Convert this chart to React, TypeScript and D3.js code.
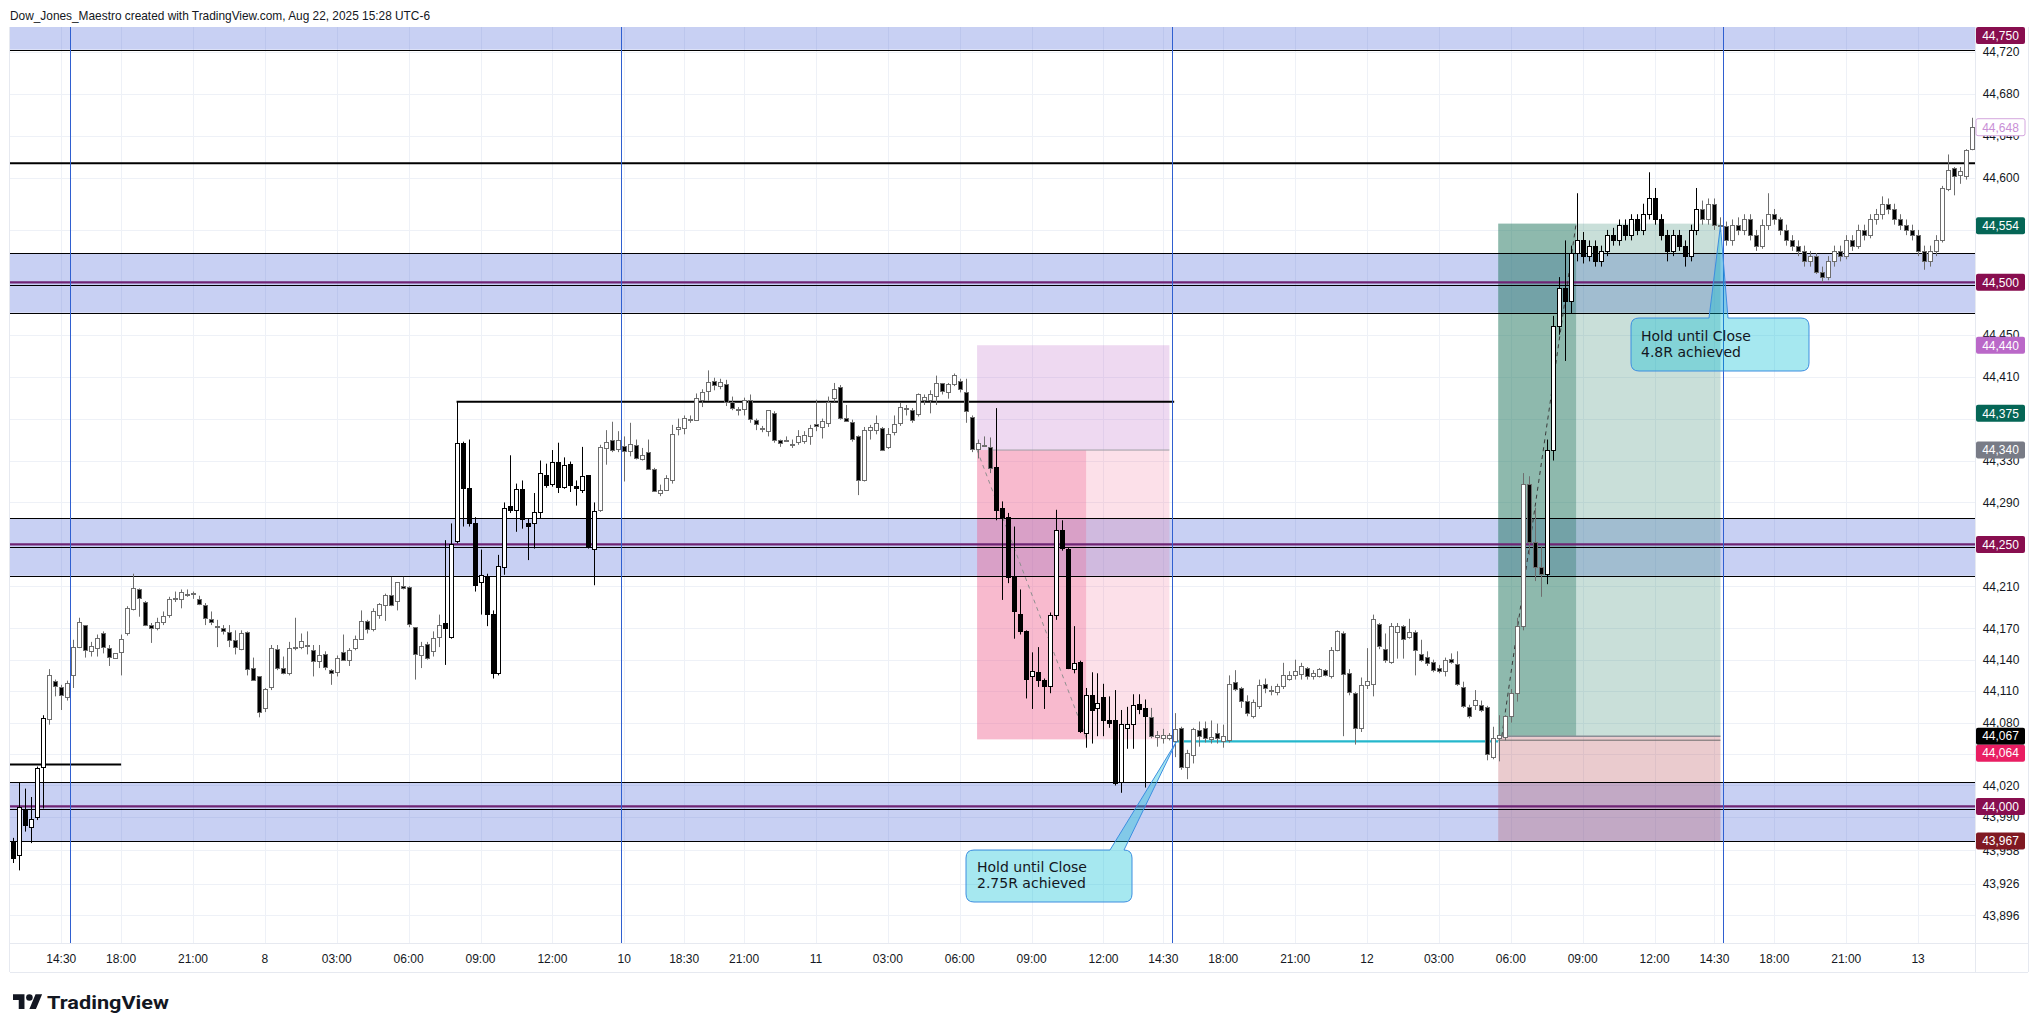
import React from 'react';
import * as d3 from 'd3';

type Bar = [number, number, number, number]; // open, high, low, close

// Day 7 (12:30 - 14:45), 15-minute bars
const session7: Bar[] = [
  [43966,43970,43946,43951],[43954,44023,43939,43999],[43998,44017,43976,43982],[43980,44009,43965,43988],
  [43990,44038,43987,44037],[44038,44087,43998,44084],[44083,44131,44078,44125],[44120,44121,44105,44115],
  [44114,44116,44092,44106],[44104,44120,44101,44118],
];
// Day 7 16:00 -> Day 8 14:45
const session8: Bar[] = [
  [44125,44159,44113,44152],[44152,44180,44151,44176],[44173,44173,44142,44149],[44148,44157,44143,44153],
  [44151,44164,44143,44161],[44165,44167,44146,44152],[44151,44154,44134,44143],[44142,44146,44142,44146],
  [44147,44164,44125,44160],[44165,44191,44163,44189],[44188,44222,44187,44208],[44207,44208,44181,44199],
  [44195,44196,44172,44173],[44173,44175,44156,44170],[44170,44180,44168,44176],[44176,44186,44173,44182],
  [44183,44200,44180,44198],[44199,44205,44195,44198],[44198,44207,44189,44205],[44203,44207,44200,44203],
  [44203,44205,44198,44204],[44198,44201,44192,44193],[44192,44194,44173,44180],[44179,44186,44173,44176],
  [44172,44178,44152,44171],[44170,44173,44164,44167],[44166,44173,44152,44159],[44159,44168,44145,44152],
  [44150,44168,44149,44165],[44166,44167,44125,44131],[44132,44142,44120,44121],[44124,44124,44085,44090],
  [44094,44113,44090,44112],[44114,44154,44111,44151],[44150,44154,44130,44132],[44132,44143,44126,44127],
  [44127,44157,44125,44151],[44152,44180,44149,44151],[44152,44165,44150,44158],[44154,44167,44145,44154],
  [44149,44154,44124,44139],[44139,44154,44132,44144],[44145,44148,44130,44133],[44130,44131,44116,44127],
  [44128,44144,44124,44142],[44147,44164,44140,44140],[44140,44151,44134,44149],[44151,44163,44149,44160],
  [44160,44187,44159,44177],[44177,44178,44165,44169],[44169,44189,44167,44186],[44183,44194,44179,44193],
  [44192,44203,44177,44202],[44202,44219,44191,44192],[44196,44214,44187,44214],[44210,44219,44207,44208],
  [44209,44210,44171,44174],[44171,44171,44121,44145],[44144,44157,44132,44153],[44155,44157,44140,44142],
  [44148,44167,44143,44161],[44162,44183,44152,44173],[44175,44254,44135,44170],[44162,44270,44160,44250],
  [44253,44386,44251,44347],[44347,44348,44267,44304],[44304,44350,44267,44270],[44270,44276,44205,44211],
  [44214,44245,44183,44221],[44220,44222,44172,44184],[44184,44187,44122,44127],[44127,44240,44125,44229],
  [44228,44290,44221,44285],[44287,44335,44280,44283],[44283,44308,44262,44303],[44303,44311,44265,44274],
  [44270,44275,44235,44268],[44270,44299,44246,44281],[44281,44330,44275,44318],[44316,44327,44304,44307],
  [44308,44340,44305,44329],[44329,44347,44299,44305],[44305,44333,44303,44326],[44327,44329,44300,44307],
  [44306,44311,44287,44304],[44302,44343,44299,44315],[44316,44316,44246,44248],[44246,44290,44211,44282],
  [44283,44345,44281,44343],[44342,44359,44326,44348],[44350,44367,44338,44340],[44341,44358,44338,44350],
];
// Sunday 10 16:00 -> Day 11 14:45
const session11: Bar[] = [
  [44344,44353,44310,44339],[44339,44366,44334,44346],[44345,44350,44331,44332],[44331,44342,44330,44335],
  [44338,44350,44321,44322],[44322,44323,44300,44301],[44299,44307,44296,44302],[44302,44316,44301,44313],
  [44311,44364,44308,44355],[44360,44370,44354,44362],[44361,44373,44355,44371],[44370,44373,44366,44370],
  [44369,44394,44368,44390],[44388,44398,44381,44395],[44396,44416,44387,44405],[44406,44409,44397,44402],
  [44401,44408,44398,44405],[44403,44407,44382,44386],[44386,44391,44378,44380],[44379,44381,44373,44378],
  [44379,44390,44373,44388],[44388,44393,44366,44370],[44369,44370,44359,44365],[44361,44363,44357,44360],
  [44358,44378,44353,44378],[44375,44377,44347,44350],[44350,44350,44343,44347],[44350,44353,44349,44350],
  [44346,44350,44342,44346],[44348,44359,44345,44353],[44349,44358,44346,44354],[44353,44364,44345,44361],
  [44365,44388,44358,44363],[44362,44370,44351,44368],[44366,44391,44362,44386],[44390,44404,44386,44398],
  [44400,44402,44369,44371],[44371,44383,44367,44368],[44367,44369,44348,44351],[44353,44354,44297,44311],
  [44311,44362,44310,44359],[44359,44364,44350,44362],[44359,44373,44355,44366],[44361,44362,44339,44340],
  [44343,44361,44341,44355],[44357,44373,44354,44365],[44366,44385,44363,44381],[44380,44383,44373,44380],
  [44378,44380,44366,44369],[44374,44394,44372,44393],[44388,44393,44383,44391],[44388,44397,44375,44393],
  [44392,44411,44383,44404],[44404,44404,44393,44396],[44395,44404,44389,44403],[44403,44413,44401,44412],
  [44406,44408,44395,44398],[44395,44408,44366,44377],[44372,44373,44338,44341],[44341,44350,44332,44347],
  [44345,44353,44343,44345],[44343,44352,44318,44323],[44324,44380,44273,44283],[44285,44291,44197,44276],
  [44276,44280,44213,44219],[44219,44267,44160,44186],[44184,44207,44164,44167],[44167,44168,44103,44122],
  [44124,44147,44093,44129],[44128,44152,44114,44121],[44121,44122,44093,44115],[44115,44185,44108,44183],
  [44183,44283,44178,44264],[44264,44273,44244,44247],[44246,44247,44131,44132],[44131,44172,44127,44137],
  [44138,44139,44070,44072],[44070,44113,44056,44106],[44106,44128,44060,44092],[44094,44127,44067,44099],
  [44104,44117,44067,44082],[44082,44105,44075,44080],[44082,44111,44020,44022],[44023,44092,44013,44079],
  [44075,44095,44055,44079],[44079,44107,44055,44097],[44098,44107,44088,44093],[44094,44102,44018,44086],
  [44085,44094,44065,44067],[44066,44072,44057,44068],[44065,44074,44060,44068],[44065,44070,44063,44068],
];
// Day 11 16:00 -> Day 12 14:45
const session12: Bar[] = [
  [44062,44089,44047,44074],[44075,44076,44035,44038],[44038,44054,44026,44051],[44049,44075,44041,44074],
  [44073,44081,44057,44067],[44075,44081,44061,44065],[44064,44082,44060,44066],[44070,44079,44060,44065],
  [44062,44078,44056,44067],[44063,44125,44061,44117],[44119,44130,44110,44112],[44113,44114,44094,44101],
  [44101,44106,44086,44089],[44086,44102,44084,44100],[44096,44121,44093,44116],[44117,44122,44108,44113],
  [44111,44115,44106,44110],[44109,44117,44106,44115],[44115,44137,44112,44125],[44122,44129,44120,44125],
  [44125,44140,44121,44129],[44126,44137,44121,44134],[44132,44133,44121,44124],[44124,44130,44121,44127],
  [44124,44132,44123,44131],[44130,44131,44124,44125],[44124,44152,44122,44149],[44149,44168,44148,44167],
  [44165,44167,44067,44126],[44127,44131,44106,44109],[44108,44109,44059,44075],[44075,44123,44071,44116],
  [44116,44151,44112,44120],[44117,44183,44105,44179],[44174,44175,44150,44153],[44150,44165,44137,44140],
  [44138,44175,44136,44172],[44166,44175,44141,44172],[44172,44173,44141,44160],[44162,44179,44160,44166],
  [44166,44168,44125,44149],[44145,44159,44138,44140],[44143,44148,44134,44137],[44138,44140,44128,44130],
  [44132,44135,44127,44129],[44129,44142,44124,44140],[44141,44146,44136,44138],[44136,44148,44115,44117],
  [44114,44119,44094,44096],[44095,44097,44084,44086],[44097,44111,44092,44102],[44097,44101,44090,44092],
  [44095,44096,44044,44050],[44047,44076,44045,44065],[44065,44087,44043,44068],[44066,44087,44063,44086],
  [44086,44112,44080,44108],[44108,44180,44100,44172],[44172,44318,44168,44308],[44308,44315,44240,44252],
  [44252,44285,44215,44228],[44228,44248,44200,44222],[44222,44350,44212,44340],[44340,44468,44330,44458],
  [44458,44505,44450,44495],[44495,44540,44425,44482],[44482,44535,44470,44528],[44528,44585,44520,44540],
  [44540,44548,44518,44525],[44525,44540,44520,44535],[44535,44540,44515,44520],[44520,44535,44515,44530],
  [44530,44550,44525,44545],[44545,44552,44535,44540],[44540,44560,44535,44555],[44555,44560,44540,44545],
  [44545,44565,44540,44560],[44560,44565,44545,44550],[44550,44575,44545,44565],[44565,44605,44560,44580],
  [44580,44590,44555,44560],[44560,44565,44540,44545],[44545,44550,44520,44530],[44530,44550,44525,44545],
  [44545,44550,44530,44535],[44535,44540,44515,44525],[44525,44555,44520,44550],[44550,44590,44545,44570],
  [44570,44578,44555,44560],[44560,44580,44555,44575],[44575,44580,44550,44555],[44555,44562,44548,44554],
];
// Day 12 16:00 -> Day 13 02:15
const session13: Bar[] = [
  [44554,44558,44535,44540],[44540,44560,44535,44555],[44555,44562,44545,44550],[44550,44565,44545,44560],
  [44560,44565,44540,44545],[44545,44550,44530,44535],[44535,44560,44532,44555],[44555,44585,44550,44565],
  [44565,44570,44555,44560],[44560,44562,44545,44550],[44550,44555,44535,44540],[44540,44545,44530,44535],
  [44535,44540,44525,44530],[44530,44535,44515,44520],[44520,44530,44515,44525],[44525,44528,44508,44510],
  [44510,44515,44500,44505],[44505,44525,44502,44520],[44520,44535,44515,44530],[44530,44535,44520,44525],
  [44525,44545,44522,44540],[44540,44545,44530,44535],[44535,44555,44532,44550],[44550,44555,44540,44545],
  [44545,44565,44542,44560],[44560,44570,44555,44565],[44565,44582,44560,44575],[44575,44580,44565,44570],
  [44570,44575,44555,44560],[44560,44565,44550,44555],[44555,44560,44545,44550],[44550,44555,44540,44545],
  [44545,44550,44525,44530],[44530,44535,44512,44520],[44520,44535,44515,44530],[44530,44545,44525,44540],
  [44540,44592,44538,44590],[44589,44622,44587,44607],[44609,44610,44583,44601],[44602,44610,44594,44606],
  [44601,44627,44598,44626],[44627,44657,44626,44648],
];
const sessions = [session7, session8, session11, session12, session13];
const sessionStartMinute = [750, 960, 960, 960, 960];

const timeTickLabels = ['14:30','18:00','21:00','8','03:00','06:00','09:00','12:00','10','18:30','21:00','11','03:00','06:00','09:00','12:00','14:30','18:00','21:00','12','03:00','06:00','09:00','12:00','14:30','18:00','21:00','13'];
const timeTickBars = [8,18,30,42,54,66,78,90,102,112,122,134,146,158,170,182,192,202,214,226,238,250,262,274,284,294,306,318];

// grid levels of the price scale; the labelled subset is what stays visible around the axis boxes
const priceGrid = [44720,44680,44640,44600,44550,44500,44450,44410,44370,44330,44290,44250,44210,44170,44140,44110,44080,44050,44020,43990,43958,43926,43896];
const priceTickLabels = [44720,44680,44640,44600,44450,44410,44330,44290,44210,44170,44140,44110,44080,44020,43990,43958,43926,43896];

const sessionEndLines = [9.4, 101.4, 193.4, 285.4];

const zoneLevels = [44750, 44500, 44250, 44000];
const zoneTops = [44778, 44528, 44275, 44023];
const zoneBottoms = [44722, 44471, 44220, 43967];

const levelPrices = [44613.5, 44386, 44040];
const levelFrom = [-2, 74, -2];
const levelTo = [330, 193.8, 18];

const tealPrice = 44062;
const tealFrom = 193.7;
const tealTo = 247.9;

const shortEntry = 44340, shortStop = 44440, shortTarget = 44064;
const shortStart = 160.9, shortHit = 179.1, shortEnd = 193;
const longEntry = 44067, longTarget = 44556, longStop = 43967;
const longStart = 247.9, longHit = 260.9, longEnd = 285;

const axisLabelPrices = [44750, 44648, 44554, 44500, 44440, 44375, 44340, 44250, 44067, 44064, 44000, 43967];
const axisLabelKinds = ['zone','last','green','zone','violet','green','gray','zone','black','pink','zone','red'];

const LABEL_STYLE: Record<string, { bg: string; fg: string; stroke?: string }> = {
  zone: { bg: '#880e4f', fg: '#ffffff' },
  last: { bg: '#ffffff', fg: '#c98fd6', stroke: '#d3a6de' },
  green: { bg: '#056656', fg: '#ffffff' },
  violet: { bg: '#ba68c8', fg: '#ffffff' },
  gray: { bg: '#787b86', fg: '#ffffff' },
  black: { bg: '#000000', fg: '#ffffff' },
  pink: { bg: '#e91e63', fg: '#ffffff' },
  red: { bg: '#801922', fg: '#ffffff' },
};

const PLOT = { left: 10, right: 1975, top: 27, bottom: 943 };

function calloutPath(x0: number, y0: number, x1: number, y1: number, r: number, b1: number, b2: number, tx: number, ty: number) {
  return `M${x0 + r},${y0} L${b1},${y0} L${tx},${ty} L${b2},${y0} L${x1 - r},${y0} Q${x1},${y0} ${x1},${y0 + r} L${x1},${y1 - r} Q${x1},${y1} ${x1 - r},${y1} L${x0 + r},${y1} Q${x0},${y1} ${x0},${y1 - r} L${x0},${y0 + r} Q${x0},${y0} ${x0 + r},${y0} Z`;
}

export default function App() {
  const bars: Bar[] = [];
  const rth: boolean[] = [];
  sessions.forEach((s, si) => {
    s.forEach((b, k) => {
      bars.push(b);
      const m = (sessionStartMinute[si] + 15 * k) % 1440;
      rth.push(m >= 450 && m < 840);
    });
  });
  const n = bars.length;
  const x = d3.scaleLinear().domain([0, n - 1]).range([13.3, 13.3 + (n - 1) * 5.99]);
  const y = d3.scaleLinear().domain([44743.6, 43869.7]).range([PLOT.top, PLOT.bottom]);
  const fmt = d3.format(',');

  const labelH = 17;
  const labels = axisLabelPrices.map((p, i) => ({ p, kind: axisLabelKinds[i], cy: y(p) }));
  let prev = -Infinity;
  labels.forEach((l) => {
    let cy = Math.max(l.cy, PLOT.top + labelH / 2);
    if (cy - prev < labelH) cy = prev + labelH;
    l.cy = cy;
    prev = cy;
  });

  const sans = '"Liberation Sans", Arial, sans-serif';
  const verd = '"DejaVu Sans", Verdana, sans-serif';

  const c1tip = [x(194.2), y(tealPrice)];
  const c2tip = [x(longEnd), y(44554)];

  return (
    <svg width={2039} height={1033} style={{ position: 'absolute', left: 0, top: 0, background: '#fff' }}>
      <defs>
        <clipPath id="plot">
          <rect x={PLOT.left} y={PLOT.top} width={PLOT.right - PLOT.left} height={PLOT.bottom - PLOT.top} />
        </clipPath>
      </defs>
      <rect x={0} y={0} width={2039} height={1033} fill="#ffffff" />
      <text x={10} y={19.5} fontFamily={sans} fontSize={13} fill="#131722" textLength={420} lengthAdjust="spacingAndGlyphs">
        Dow_Jones_Maestro created with TradingView.com, Aug 22, 2025 15:28 UTC-6
      </text>

      <g clipPath="url(#plot)">
        {timeTickBars.map((b, i) => (
          <line key={'vg' + i} x1={Math.round(x(b)) + 0.5} x2={Math.round(x(b)) + 0.5} y1={PLOT.top} y2={PLOT.bottom} stroke="#eef1f7" />
        ))}
        {priceGrid.map((p, i) => (
          <line key={'hg' + i} x1={PLOT.left} x2={PLOT.right} y1={Math.round(y(p)) + 0.5} y2={Math.round(y(p)) + 0.5} stroke="#eef1f7" />
        ))}

        {zoneLevels.map((lv, i) => (
          <rect key={'z' + i} x={PLOT.left} width={PLOT.right - PLOT.left} y={y(zoneTops[i])} height={y(zoneBottoms[i]) - y(zoneTops[i])} fill="rgba(66,92,214,0.29)" />
        ))}

        <rect x={x(shortStart)} width={x(shortEnd) - x(shortStart)} y={y(shortStop)} height={y(shortEntry) - y(shortStop)} fill="rgba(186,104,200,0.25)" />
        <rect x={x(shortStart)} width={x(shortEnd) - x(shortStart)} y={y(shortEntry)} height={y(shortTarget) - y(shortEntry)} fill="rgba(240,98,146,0.2)" />
        <rect x={x(shortStart)} width={x(shortHit) - x(shortStart)} y={y(shortEntry)} height={y(shortTarget) - y(shortEntry)} fill="rgba(240,98,146,0.3)" />
        <line x1={x(shortStart) + 16} x2={x(shortEnd)} y1={y(shortEntry)} y2={y(shortEntry)} stroke="#9e9ea6" strokeWidth={1} />

        <rect x={x(longStart)} width={x(longEnd) - x(longStart)} y={y(longTarget)} height={y(longEntry) - y(longTarget)} fill="rgba(60,140,120,0.28)" />
        <rect x={x(longStart)} width={x(longHit) - x(longStart)} y={y(longTarget)} height={y(longEntry) - y(longTarget)} fill="rgba(20,110,85,0.33)" />
        <rect x={x(longStart)} width={x(longEnd) - x(longStart)} y={y(longEntry)} height={y(longStop) - y(longEntry)} fill="rgba(180,70,80,0.28)" />
        <line x1={x(longStart)} x2={x(longEnd)} y1={y(longEntry)} y2={y(longEntry)} stroke="#8a8d96" strokeWidth={1.5} />
        <line x1={x(longStart)} x2={x(longEnd)} y1={y(longEntry) + 4} y2={y(longEntry) + 4} stroke="#6b6b6b" strokeWidth={1} />

        {zoneLevels.map((lv, i) => (
          <g key={'zl' + i}>
            <line x1={PLOT.left} x2={PLOT.right} y1={Math.round(y(zoneTops[i])) + 0.5} y2={Math.round(y(zoneTops[i])) + 0.5} stroke="#000" strokeWidth={1} />
            <line x1={PLOT.left} x2={PLOT.right} y1={Math.round(y(zoneBottoms[i])) + 0.5} y2={Math.round(y(zoneBottoms[i])) + 0.5} stroke="#000" strokeWidth={1} />
            <line x1={PLOT.left} x2={PLOT.right} y1={y(lv)} y2={y(lv)} stroke="#6f2474" strokeWidth={2.2} />
            <line x1={PLOT.left} x2={PLOT.right} y1={Math.round(y(lv)) + 3.5} y2={Math.round(y(lv)) + 3.5} stroke="#000" strokeWidth={1} />
          </g>
        ))}

        {levelPrices.map((p, i) => (
          <line key={'lv' + i} x1={x(levelFrom[i])} x2={x(levelTo[i])} y1={y(p)} y2={y(p)} stroke="#000" strokeWidth={2} />
        ))}

        <line x1={x(tealFrom)} x2={x(tealTo)} y1={y(tealPrice)} y2={y(tealPrice)} stroke="#25b7cc" strokeWidth={2.2} />

        {sessionEndLines.map((b, i) => (
          <line key={'sl' + i} x1={Math.round(x(b)) + 0.5} x2={Math.round(x(b)) + 0.5} y1={PLOT.top} y2={PLOT.bottom} stroke="#2f5fd0" strokeWidth={1} />
        ))}

        <line x1={x(shortStart)} y1={y(shortEntry)} x2={x(179.2)} y2={y(shortTarget)} stroke="#8f8f8f" strokeWidth={1} strokeDasharray="4 4" />
        <line x1={x(248.5)} y1={y(longEntry)} x2={x(longHit)} y2={y(longTarget)} stroke="#3a3a3a" strokeWidth={1} strokeDasharray="4 4" />

        {bars.map((b, i) => {
          const [o, h, l, c] = b;
          const cx = Math.round(x(i)) + 0.5;
          const up = c >= o;
          const col = rth[i] ? '#000000' : '#6e6e6e';
          const yTop = Math.round(y(Math.max(o, c))) + 0.5;
          const yBot = Math.round(y(Math.min(o, c))) + 0.5;
          const hi = y(Math.max(h, o, c));
          const lo = y(Math.min(l, o, c));
          return (
            <g key={'c' + i}>
              <line x1={cx} x2={cx} y1={hi} y2={lo} stroke={col} strokeWidth={1} />
              <rect x={cx - 2} y={yTop} width={4} height={Math.max(1, yBot - yTop)} fill={up ? '#ffffff' : '#000000'} stroke={col} strokeWidth={1} />
            </g>
          );
        })}

        <path d={calloutPath(966, 850, 1132, 902, 8, 1110, 1124, c1tip[0], c1tip[1])} fill="rgba(0,188,212,0.35)" stroke="#3d8ee0" strokeWidth={1} />
        <text x={977} y={872} fontFamily={verd} fontSize={14} fill="#131722">Hold until Close</text>
        <text x={977} y={888} fontFamily={verd} fontSize={14} fill="#131722">2.75R achieved</text>

        <path d={calloutPath(1631, 318, 1809, 371, 8, 1709, 1728, c2tip[0], c2tip[1])} fill="rgba(0,188,212,0.35)" stroke="#3d8ee0" strokeWidth={1} />
        <text x={1641} y={341} fontFamily={verd} fontSize={14} fill="#131722">Hold until Close</text>
        <text x={1641} y={357} fontFamily={verd} fontSize={14} fill="#131722">4.8R achieved</text>
      </g>

      <line x1={PLOT.right + 0.5} x2={PLOT.right + 0.5} y1={PLOT.top} y2={972} stroke="#e6e9f0" />
      <line x1={PLOT.left} x2={2028} y1={PLOT.bottom + 0.5} y2={PLOT.bottom + 0.5} stroke="#e6e9f0" />
      <line x1={2028.5} x2={2028.5} y1={PLOT.top} y2={972} stroke="#e6e9f0" />
      <line x1={PLOT.left} x2={2028} y1={972.5} y2={972.5} stroke="#e6e9f0" />
      <line x1={PLOT.left - 0.5} x2={PLOT.left - 0.5} y1={PLOT.top} y2={972} stroke="#e6e9f0" />

      {priceTickLabels.map((p, i) => (
        <text key={'pt' + i} x={2001} y={y(p) + 4.3} textAnchor="middle" fontFamily={sans} fontSize={12} fill="#131722">{fmt(p)}</text>
      ))}
      {labels.map((l, i) => {
        const st = LABEL_STYLE[l.kind];
        return (
          <g key={'al' + i}>
            <rect x={1976} y={l.cy - labelH / 2} width={49} height={labelH} rx={2} fill={st.bg} stroke={st.stroke || 'none'} strokeWidth={1} />
            <text x={2000.5} y={l.cy + 4.3} textAnchor="middle" fontFamily={sans} fontSize={12} fill={st.fg}>{fmt(l.p)}</text>
          </g>
        );
      })}

      {timeTickLabels.map((t, i) => (
        <text key={'tt' + i} x={x(timeTickBars[i])} y={962.5} textAnchor="middle" fontFamily={sans} fontSize={12} fill="#131722">{t}</text>
      ))}

      <g transform="translate(13,991) scale(0.82)" fill="#131722">
        <path d="M14 22H7V11H0V4h14v18zM28 22h-8l7.5-18h8L28 22z" />
        <circle cx={20} cy={8} r={4} />
      </g>
      <text x={47} y={1009} fontFamily={'Roboto, "Noto Sans", sans-serif'} fontWeight={700} fontSize={19} fill="#131722" textLength={122} lengthAdjust="spacingAndGlyphs">TradingView</text>
    </svg>
  );
}
